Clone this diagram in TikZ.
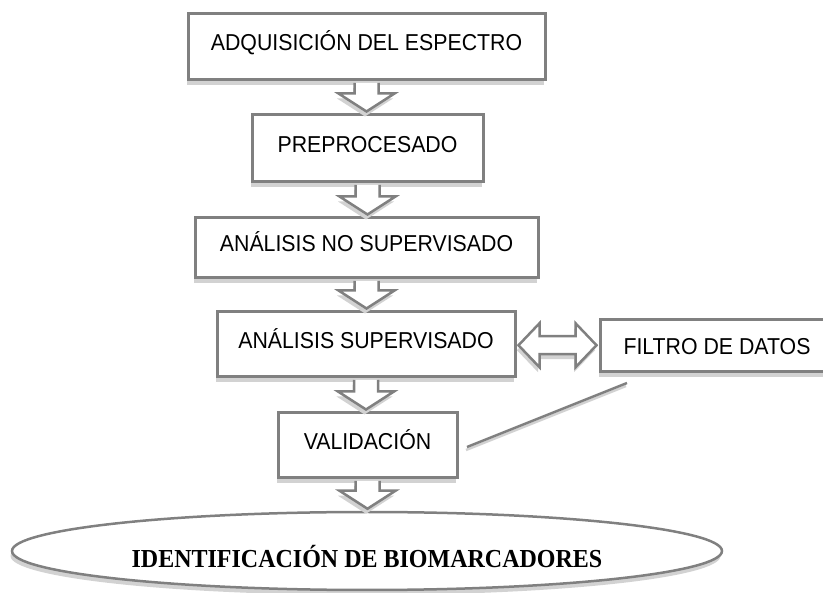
\documentclass[tikz,border=0pt]{standalone}
\usepackage{fontspec}
\usetikzlibrary{shapes.geometric,shadows,calc}
\newfontfamily\arialf{Liberation Sans}
\newfontfamily\timesf{Liberation Serif}
\definecolor{bordergray}{RGB}{128,128,128}
\definecolor{shadowgray}{RGB}{210,210,210}
\newcommand\vtx[1]{\scalebox{1}[1.08]{#1}}
\tikzset{
  shad/.style={drop shadow={shadow xshift=-1.5pt, shadow yshift=-5pt, fill=shadowgray, opacity=1}},
  procbox/.style={rectangle, draw=bordergray, line width=3pt, fill=white, shad, inner sep=0pt,
    font=\arialf\fontsize{21.3}{24}\selectfont, text height=10pt, text depth=2.5pt},
  endshape/.style={ellipse, draw=bordergray, line width=2.5pt, fill=white, shad, inner sep=0pt,
    minimum width=710pt, minimum height=78pt, font=\timesf\bfseries\fontsize{24}{28}\selectfont,
    text height=34pt, text depth=0pt},
  harrow/.style={draw=bordergray, line width=2.5pt, fill=white, line join=miter, shad},
  linkline/.style={draw=bordergray, line width=2.5pt,
    preaction={draw=shadowgray, line width=2.5pt, transform canvas={shift={(-1pt,-3pt)}}}}
}
\newcommand\hdarrow[2]{%
  \draw[harrow] let \p1=(#1.south), \p2=(#2.north) in
    ({\x1-12pt},{\y1-1.5pt}) -- ({\x1-12pt},{\y2+20pt}) -- ({\x1-28pt},{\y2+20pt})
    -- ({\x1},{\y2+2pt}) -- ({\x1+28pt},{\y2+20pt}) -- ({\x1+12pt},{\y2+20pt})
    -- ({\x1+12pt},{\y1-1.5pt});}
\begin{document}
\begin{tikzpicture}[x=1pt,y=-1pt]
\path[use as bounding box, clip] (0,0) rectangle (823,593);

\node[procbox, minimum width=357pt, minimum height=66pt] (b1) at (366.5,47) {\vtx{ADQUISICIÓN DEL ESPECTRO}};
\node[procbox, minimum width=231pt, minimum height=67pt] (b2) at (367.5,148.5) {\vtx{PREPROCESADO}};
\node[procbox, minimum width=343pt, minimum height=60pt] (b3) at (366.5,248) {\vtx{ANÁLISIS NO SUPERVISADO}};
\node[procbox, minimum width=298pt, minimum height=65pt] (b4) at (366,344.5) {\vtx{ANÁLISIS SUPERVISADO}};
\node[procbox, minimum width=179pt, minimum height=65pt] (b5) at (367.5,445.5) {\vtx{VALIDACIÓN}};
\node[procbox, minimum width=234pt, minimum height=52pt, text height=16.4pt, text depth=0pt] (filtro) at (717,346) {\vtx{FILTRO DE DATOS}};
\node[endshape] (ident) at (367,551) {\vtx{IDENTIFICACIÓN DE BIOMARCADORES}};

\hdarrow{b1}{b2}
\hdarrow{b2}{b3}
\hdarrow{b3}{b4}
\hdarrow{b4}{b5}
\hdarrow{b5}{ident}

\draw[harrow] let \p1=(b4.east), \p2=(filtro.west), \n1={0.5*(\y1+\y2)} in
  ({\x1+2pt},{\n1*1pt}) -- ({\x1+23pt},{\n1*1pt+22pt}) -- ({\x1+23pt},{\n1*1pt+9pt})
  -- ({\x2-23pt},{\n1*1pt+9pt}) -- ({\x2-23pt},{\n1*1pt+22pt}) -- ({\x2-2pt},{\n1*1pt})
  -- ({\x2-23pt},{\n1*1pt-22pt}) -- ({\x2-23pt},{\n1*1pt-9pt}) -- ({\x1+23pt},{\n1*1pt-9pt})
  -- ({\x1+23pt},{\n1*1pt-22pt}) -- cycle;

\draw[linkline] ($(b5.east)+(8.5,1.5)$) -- ($(filtro.south west)+(28.5,9.5)$);
\end{tikzpicture}
\end{document}
